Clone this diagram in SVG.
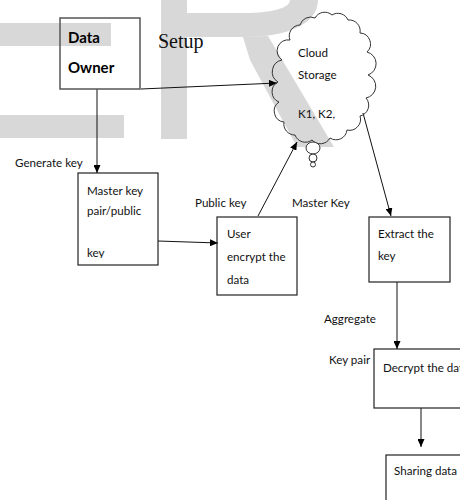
<svg xmlns="http://www.w3.org/2000/svg" width="460" height="500" viewBox="0 0 460 500">
<style>
.t{font-family:Lato,"Liberation Sans",Arial,sans-serif;font-size:11.6px;fill:#111}
.b{font-family:Lato,"Liberation Sans",Arial,sans-serif;font-size:15px;font-weight:bold;fill:#000}
.s{font-family:"Liberation Serif","Times New Roman",serif;font-size:20px;fill:#111}
.box{fill:none;stroke:#222;stroke-width:1.2}
.ln{fill:none;stroke:#111;stroke-width:1;marker-end:url(#ah)}
.wm{fill:#d8d8d8;stroke:none}
</style>
<defs>
<marker id="ah" markerWidth="8" markerHeight="7" refX="8" refY="3.5" orient="auto" markerUnits="userSpaceOnUse">
<path d="M0,0 L8,3.5 L0,7 Z" fill="#000"/>
</marker>
<clipPath id="kc"><rect x="80" y="240" width="60" height="18"/></clipPath>
</defs>
<rect width="460" height="500" fill="#fff"/>
<g id="watermark">
<rect class="wm" x="0" y="23" width="111" height="23"/>
<rect class="wm" x="0" y="115" width="124" height="23"/>
<rect class="wm" x="161" y="0" width="26" height="139"/>
<path class="wm" d="M187,37 L245,37 C285,37 318,25 318,0 L290,0 C290,8 272,13 245,13 L187,13 Z"/>
<polygon class="wm" points="243,37 268,36 334,147 297,147 250,60"/>
</g>
<g id="connectors">
<line class="ln" x1="141" y1="89" x2="277" y2="83"/>
<line class="ln" x1="97" y1="89" x2="97" y2="173"/>
<line class="ln" x1="158" y1="241" x2="218" y2="243"/>
<line class="ln" x1="258" y1="216" x2="297" y2="142"/>
<line class="ln" x1="363" y1="113" x2="391" y2="216"/>
<line class="ln" x1="397" y1="282" x2="397" y2="349"/>
<line class="ln" x1="421" y1="408" x2="421" y2="447"/>
</g>
<g id="data-owner">
<rect x="60" y="18" width="80" height="71" fill="none" stroke="#555" stroke-width="1.5"/>
<text class="b" x="68" y="43">Data</text>
<text class="b" x="68" y="73">Owner</text>
</g>
<g id="setup-label"><text class="s" x="158" y="48">Setup</text></g>
<g id="cloud-storage">
<path fill="none" stroke="#333" stroke-width="1" d="M290,40 A11,11 0 0 1 300,25 A11,11 0 0 1 315,18 A11,11 0 0 1 332,15 A11,11 0 0 1 348,20 A11,11 0 0 1 360,33 A11,11 0 0 1 367,52 A12,12 0 0 1 368,75 A12,12 0 0 1 366,98 A11,11 0 0 1 360,116 A11,11 0 0 1 347,130 A11,11 0 0 1 330,138 A11,11 0 0 1 312,140 A11,11 0 0 1 295,135 A11,11 0 0 1 284,122 A11,11 0 0 1 279,102 A11,11 0 0 1 278,82 A12,12 0 0 1 282,60 A11,11 0 0 1 290,40 Z"/>
<ellipse cx="313" cy="148" rx="7" ry="6" fill="#fff" stroke="#333" stroke-width="1"/>
<circle cx="313" cy="158" r="4" fill="#fff" stroke="#333" stroke-width="1"/>
<circle cx="313" cy="164.5" r="2.5" fill="#fff" stroke="#333" stroke-width="1"/>
<text class="t" x="298" y="57">Cloud</text>
<text class="t" x="298" y="79">Storage</text>
<text class="t" x="298" y="118">K1, K2,</text>
</g>
<g id="generate-key-label"><text class="t" x="15" y="167">Generate key</text></g>
<g id="master-key">
<rect class="box" x="78" y="173" width="80" height="92"/>
<text class="t" x="87" y="195">Master key</text>
<text class="t" x="87" y="215">pair/public</text>
<text class="t" x="87" y="257" clip-path="url(#kc)">key</text>
</g>
<g id="public-key-label"><text class="t" x="195" y="207">Public key</text></g>
<g id="master-key-label"><text class="t" x="292" y="207">Master Key</text></g>
<g id="user-encrypt">
<rect class="box" x="217" y="217" width="80" height="78"/>
<text class="t" x="227" y="238">User</text>
<text class="t" x="227" y="261">encrypt the</text>
<text class="t" x="227" y="284">data</text>
</g>
<g id="extract-key">
<rect class="box" x="369" y="217" width="81" height="65"/>
<text class="t" x="378" y="238">Extract the</text>
<text class="t" x="378" y="260">key</text>
</g>
<g id="aggregate-label"><text class="t" x="324" y="323">Aggregate</text></g>
<g id="key-pair-label"><text class="t" x="329" y="364">Key pair</text></g>
<g id="decrypt">
<rect class="box" x="374" y="349" width="120" height="59"/>
<text class="t" x="383" y="372">Decrypt the data</text>
</g>
<g id="sharing">
<rect class="box" x="386" y="455" width="120" height="70"/>
<text class="t" x="394" y="475">Sharing data</text>
</g>
</svg>
